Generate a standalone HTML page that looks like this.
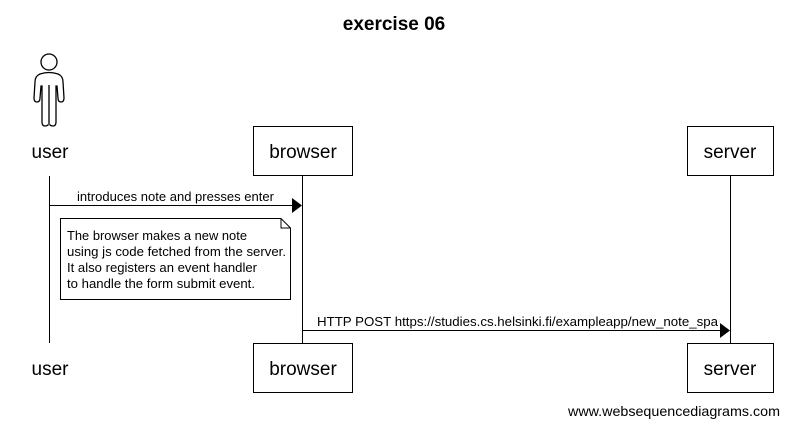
<!DOCTYPE html>
<html><head><meta charset="utf-8"><style>html,body{margin:0;padding:0;background:#fff}svg{display:block}</style></head>
<body>
<svg width="788" height="426" viewBox="0 0 788 426" xmlns="http://www.w3.org/2000/svg" font-family="Liberation Sans, Arial, sans-serif">
<rect width="788" height="426" fill="#fff"/>
<text x="394" y="30" font-size="19" font-weight="bold" text-anchor="middle">exercise 06</text>
<!-- actor -->
<g fill="#fff" stroke="#000" stroke-width="1.3">
<circle cx="49" cy="62" r="8"/>
<path d="M40 74 Q49 71 58 74 Q63 76 63 82 L64 98 Q64 102 61 102 Q58 102 58 98 L57 86 L56 86 L56 122 Q56 126 53 126 Q49 126 49 122 L49 90 L49 122 Q49 126 45 126 Q42 126 42 122 L42 86 L41 86 L40 98 Q40 102 37 102 Q34 102 34 98 L35 82 Q35 76 40 74 Z"/>
</g>
<line x1="49" y1="85" x2="49" y2="125" stroke="#555" stroke-width="2"/>
<!-- lifelines -->
<g stroke="#000" stroke-width="1">
<line x1="49.5" y1="176" x2="49.5" y2="343"/>
<line x1="302.5" y1="176" x2="302.5" y2="343"/>
<line x1="730.5" y1="176" x2="730.5" y2="343"/>
</g>
<g fill="#fff" stroke="#000" stroke-width="1">
<rect x="253.5" y="126.5" width="99" height="49"/>
<rect x="687.5" y="126.5" width="86" height="49"/>
<rect x="253.5" y="343.5" width="99" height="49"/>
<rect x="687.5" y="343.5" width="86" height="49"/>
</g>
<g font-size="19" text-anchor="middle">
<text x="50" y="158">user</text>
<text x="303" y="158">browser</text>
<text x="730" y="158">server</text>
<text x="50" y="375">user</text>
<text x="303" y="375">browser</text>
<text x="730" y="375">server</text>
</g>
<!-- message 1 -->
<line x1="49.5" y1="205.5" x2="293" y2="205.5" stroke="#000"/>
<polygon points="292,198 302,205.5 292,213" fill="#000"/>
<text x="77" y="201" font-size="13" textLength="197" lengthAdjust="spacingAndGlyphs">introduces note and presses enter</text>
<!-- note -->
<path d="M60.5 218.5 H281 L290.5 228 V299.5 H60.5 Z" fill="#fff" stroke="#000"/>
<path d="M281 218.5 V228 H290.5" fill="none" stroke="#000"/>
<g font-size="13">
<text x="67" y="240" textLength="180" lengthAdjust="spacingAndGlyphs">The browser makes a new note</text>
<text x="67" y="256" textLength="219" lengthAdjust="spacingAndGlyphs">using js code fetched from the server.</text>
<text x="67" y="272" textLength="190" lengthAdjust="spacingAndGlyphs">It also registers an event handler</text>
<text x="67" y="288" textLength="188" lengthAdjust="spacingAndGlyphs">to handle the form submit event.</text>
</g>
<!-- message 2 -->
<line x1="302.5" y1="330.5" x2="721" y2="330.5" stroke="#000"/>
<polygon points="720,323 730,330.5 720,338" fill="#000"/>
<text x="317" y="326" font-size="13" textLength="401" lengthAdjust="spacingAndGlyphs">HTTP POST https://studies.cs.helsinki.fi/exampleapp/new_note_spa</text>
<text x="568" y="416" font-size="14" textLength="212" lengthAdjust="spacingAndGlyphs">www.websequencediagrams.com</text>
</svg>
</body></html>
